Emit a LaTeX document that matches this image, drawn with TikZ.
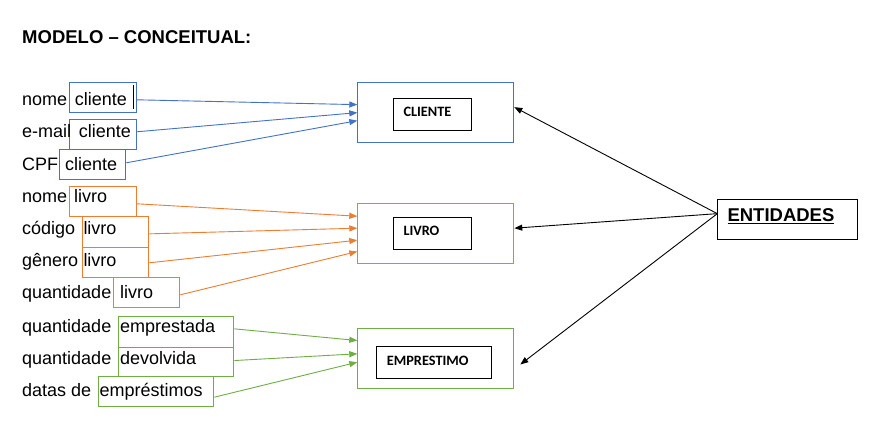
\documentclass[tikz,border=0pt]{standalone}
\usepackage{fontspec}
\setmainfont{Liberation Sans}
\newfontfamily\calib{Carlito}
\usetikzlibrary{arrows.meta}
\definecolor{oblue}{HTML}{4472C4}
\definecolor{oorange}{HTML}{ED7D31}
\definecolor{ogreen}{HTML}{70AD47}
\begin{document}
\begin{tikzpicture}[x=1pt,y=-1pt,
  txt/.style={inner sep=0pt, anchor=base west, font=\fontsize{18}{20}\selectfont},
  ttl/.style={inner sep=0pt, anchor=base west, font=\fontsize{18.5}{20}\selectfont\bfseries},
  etxt/.style={inner sep=0pt, anchor=base west, font=\fontsize{14.3}{16}\selectfont\calib\bfseries},
  abox/.style={draw=#1, line width=1pt, inner sep=0pt, anchor=north west},
  arr/.style={draw=#1, line width=0.9pt, -{Triangle[length=8pt,width=6pt]}}
]
\useasboundingbox[fill=white] (0,0) rectangle (896,443);
% title
\node[ttl] (title) at (22,44) {MODELO – CONCEITUAL:};
% attribute boxes
\node[abox=oblue, minimum width=66.4pt, minimum height=30pt] (c1) at (69.3,82.3) {};
\node[abox=oblue, minimum width=66.4pt, minimum height=30pt] (c2) at (69.3,119.3) {};
\node[abox=oblue, minimum width=66pt, minimum height=30pt] (c3) at (59.3,149.3) {};
\node[abox=oorange, minimum width=66.4pt, minimum height=30pt] (l1) at (69.3,186) {};
\node[abox=oorange, minimum width=66pt, minimum height=30.7pt] (l2) at (82.3,216) {};
\node[abox=oorange, minimum width=66pt, minimum height=30.6pt] (l3) at (82.3,246.7) {};
\node[abox=oorange, minimum width=66pt, minimum height=30pt] (l4) at (113.3,277.3) {};
\node[abox=ogreen, minimum width=115pt, minimum height=30.7pt] (e1) at (118.3,316) {};
\node[abox=ogreen, minimum width=115pt, minimum height=29.3pt] (e2) at (118.3,346.7) {};
\node[abox=ogreen, minimum width=115pt, minimum height=30pt] (e3) at (98.3,376) {};
% cursor mark
\coordinate (k1) at (133.6,85);
\coordinate (k2) at (133.6,109);
\draw[line width=1pt] (k1) -- (k2);
% attribute texts
\node[txt] (t1a) at (22,106) {nome};
\node[txt] (t1b) at (74.7,106) {cliente};
\node[txt] (t2a) at (22,138) {e-mail};
\node[txt] (t2b) at (78.7,138) {cliente};
\node[txt] (t3a) at (22,171) {CPF};
\node[txt] (t3b) at (65,171) {cliente};
\node[txt] (t4a) at (22,203) {nome};
\node[txt] (t4b) at (74,203) {livro};
\node[txt] (t5a) at (22,235) {código};
\node[txt] (t5b) at (83.3,235) {livro};
\node[txt] (t6a) at (22,266.5) {gênero};
\node[txt] (t6b) at (83.3,266.5) {livro};
\node[txt] (t7a) at (22,299) {quantidade};
\node[txt] (t7b) at (120,299) {livro};
\node[txt] (t8a) at (22,332) {quantidade};
\node[txt] (t8b) at (120,332) {emprestada};
\node[txt] (t9a) at (22,364) {quantidade};
\node[txt] (t9b) at (120,364) {devolvida};
\node[txt] (t10a) at (22,396) {datas de};
\node[txt] (t10b) at (99.3,396) {empréstimos};
% entity boxes
\node[abox=oblue, minimum width=156pt, minimum height=59.7pt] (cli) at (357.3,82.3) {};
\node[abox=black, minimum width=78pt, minimum height=32pt] (cliin) at (393.3,98.3) {};
\node[etxt] (clit) at (403.3,116.7) {CLIENTE};
\node[abox=oorange, minimum width=156pt, minimum height=60pt] (liv) at (357.3,203.3) {};
\node[abox=black, minimum width=78pt, minimum height=31.7pt] (livin) at (393.3,217.3) {};
\node[etxt] (livt) at (403.3,236) {LIVRO};
\node[abox=ogreen, minimum width=156pt, minimum height=60pt] (emp) at (357.3,328.3) {};
\node[abox=black, minimum width=114.7pt, minimum height=32.3pt] (empin) at (376,346) {};
\node[etxt] (empt) at (386.7,365) {EMPRESTIMO};
\node[abox=black, minimum width=140pt, minimum height=40.3pt] (ent) at (717.3,199) {};
\node[ttl] (entt) at (727.3,221.5) {\underline{ENTIDADES}};
% blue connectors
\draw[arr=oblue] ([yshift=-2pt]c1.east) -- ([yshift=8pt]cli.west);
\draw[arr=oblue] ([yshift=3pt]c2.east) -- ([yshift=0pt]cli.west);
\draw[arr=oblue] ([yshift=2pt]c3.east) -- ([yshift=-8pt]cli.west);
% orange connectors
\draw[arr=oorange] ([yshift=-2.3pt]l1.east) -- ([yshift=17.6pt]liv.west);
\draw[arr=oorange] ([yshift=-2pt]l2.east) -- ([yshift=5.6pt]liv.west);
\draw[arr=oorange] ([yshift=-0.3pt]l3.east) -- ([yshift=-6.4pt]liv.west);
\draw[arr=oorange] ([yshift=-2pt]l4.east) -- ([yshift=-17.7pt]liv.west);
% green connectors
\draw[arr=ogreen] ([yshift=3pt]e1.east) -- ([yshift=18.3pt]emp.west);
\draw[arr=ogreen] ([yshift=1.3pt]e2.east) -- ([yshift=5pt]emp.west);
\draw[arr=ogreen] ([yshift=-5.7pt]e3.east) -- ([yshift=-3.4pt]emp.west);
% black connectors
\draw[arr=black] ([yshift=6pt]ent.west) -- ([yshift=5.5pt]cli.east);
\draw[arr=black] ([yshift=6pt]ent.west) -- ([yshift=5.6pt]liv.east);
\draw[arr=black] ([yshift=6pt]ent.west) -- ([xshift=6pt,yshift=-5.7pt]emp.east);
\end{tikzpicture}
\end{document}
